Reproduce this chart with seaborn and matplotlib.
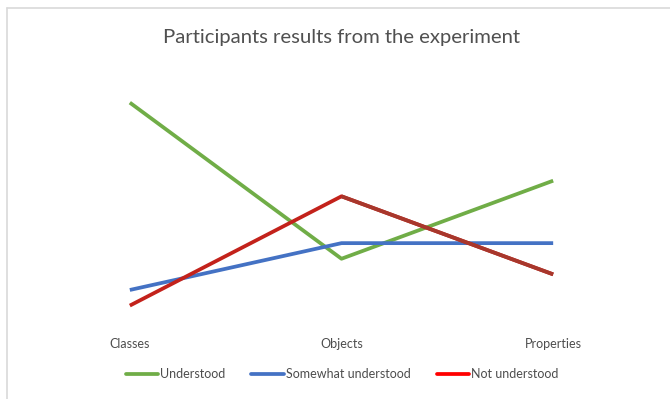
import matplotlib
matplotlib.use("Agg")
import matplotlib.pyplot as plt
from matplotlib.lines import Line2D
import seaborn as sns
import pandas as pd

categories = ["Classes", "Objects", "Properties"]
understood = [14, 4, 9]
somewhat_understood = [2, 5, 5]
not_understood = [1, 8, 3]
series_names = ["Understood", "Somewhat understood", "Not understood"]

line_colors = {"Understood": "#70ad47", "Somewhat understood": "#4472c4", "Not understood": "#c3221b"}
legend_colors = {"Understood": "#70ad47", "Somewhat understood": "#4472c4", "Not understood": "#ff0000"}
second_red = "#a8372c"

rows = []
for name, vals in zip(series_names, [understood, somewhat_understood, not_understood]):
    for i, (c, v) in enumerate(zip(categories, vals)):
        rows.append({"category": c, "pos": i, "value": v, "series": name})
df = pd.DataFrame(rows)

sns.set_style("white")
plt.rcParams["font.family"] = ["Lato", "DejaVu Sans"]

fig = plt.figure(figsize=(6.7, 3.99), dpi=100)
ax = fig.add_axes([24 / 670, (399 - 321.2) / 399, 635 / 670, 249.8 / 399])

sns.lineplot(data=df, x="pos", y="value", hue="series", hue_order=series_names,
             palette=line_colors, linewidth=2.7, legend=False, ax=ax,
             solid_capstyle="butt")
sub = df[(df["series"] == "Not understood") & (df["pos"] >= 1)]
sns.lineplot(data=sub, x="pos", y="value", color=second_red, linewidth=2.7,
             legend=False, ax=ax, solid_capstyle="butt")

ax.set_xlim(-0.5, 2.5)
ax.set_ylim(0, 16)
ax.set_xticks(range(len(categories)))
ax.set_xticklabels(categories, color="#4d4d4d", fontsize=9)
ax.set_yticks([])
ax.tick_params(axis="x", length=0, pad=12)
ax.set_xlabel("")
ax.set_ylabel("")
for s in ax.spines.values():
    s.set_visible(False)

fig.text(341.5 / 670, 1 - 38 / 399, "Participants results from the experiment",
         ha="center", va="center", fontsize=14.6, color="#505050")

handles = [Line2D([0], [0], color=legend_colors[n], linewidth=2.7) for n in series_names]
fig.legend(handles, series_names, loc="center", bbox_to_anchor=(342 / 670, 1 - 374 / 399),
           ncol=3, frameon=False, fontsize=9, handlelength=2.6, handletextpad=0.15,
           columnspacing=2.1, labelcolor="#4d4d4d")

fig.add_artist(Line2D([6.5 / 670, 1], [1 - 7.5 / 399, 1 - 7.5 / 399], color="#d9d9d9", linewidth=1.2))
fig.add_artist(Line2D([6.5 / 670, 6.5 / 670], [0, 1 - 7.5 / 399], color="#d9d9d9", linewidth=1.2))

fig.savefig("out.png", dpi=100, facecolor="white")
